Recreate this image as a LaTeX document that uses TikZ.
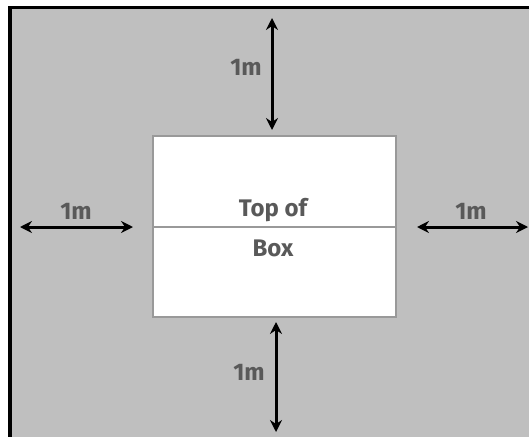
\documentclass[tikz,border=0pt]{standalone}
\usepackage{fontspec}
\setmainfont{Fira Sans}
\usepackage{tikz}
\usetikzlibrary{arrows.meta}
\usetikzlibrary{calc}
\definecolor{fond}{HTML}{BFBFBF}
\definecolor{texte}{HTML}{595959}
\definecolor{bord}{HTML}{999999}
\tikzset{
  cote/.style={line width=3pt, {Stealth[length=12pt,width=12pt,inset=4pt]}-{Stealth[length=12pt,width=12pt,inset=4pt]}},
  lbl/.style={font=\fontsize{24}{26}\selectfont\bfseries, text=texte, inner sep=0pt}
}
\begin{document}
\begin{tikzpicture}[x=1pt,y=-1pt]
            \useasboundingbox (0,0) rectangle (529,436);
            \clip (0,0) rectangle (529,436);
            % zone grise
            \filldraw[fill=fond, draw=black, line width=3.5pt] (10,7.5) rectangle (545,450);
            % dessus de la boite
            \coordinate (A) at (153,136);
            \coordinate (B) at (396,136);
            \coordinate (C) at (396,317);
            \coordinate (D) at (153,317);
            \coordinate (M1) at (153,227);
            \coordinate (M2) at (396,227);
            \filldraw[fill=white, draw=bord, line width=2pt] (A) -- (B) -- (C) -- (D) -- cycle;
            \draw[bord, line width=2.5pt] (M1) -- (M2);
            \node[lbl, anchor=base] (top) at (273,216) {Top of};
            \node[lbl, anchor=base] (box) at (273,256) {Box};
            % cotes
            \coordinate (h1) at (272,18);
            \coordinate (h2) at (272,130);
            \coordinate (b1) at (276,322);
            \coordinate (b2) at (276,432);
            \coordinate (g1) at (20,227);
            \coordinate (g2) at (133,227);
            \coordinate (d1) at (417,227);
            \coordinate (d2) at (528,227);
            \draw[cote] (h1) -- (h2);
            \draw[cote] (b1) -- (b2);
            \draw[cote] (g1) -- (g2);
            \draw[cote] (d1) -- (d2);
            \node[lbl] (lh) at (246,67) {1m};
            \node[lbl] (lb) at (249,372) {1m};
            \node[lbl] (lg) at (76,211) {1m};
            \node[lbl] (ld) at (471,211) {1m};
        \end{tikzpicture}
\end{document}
